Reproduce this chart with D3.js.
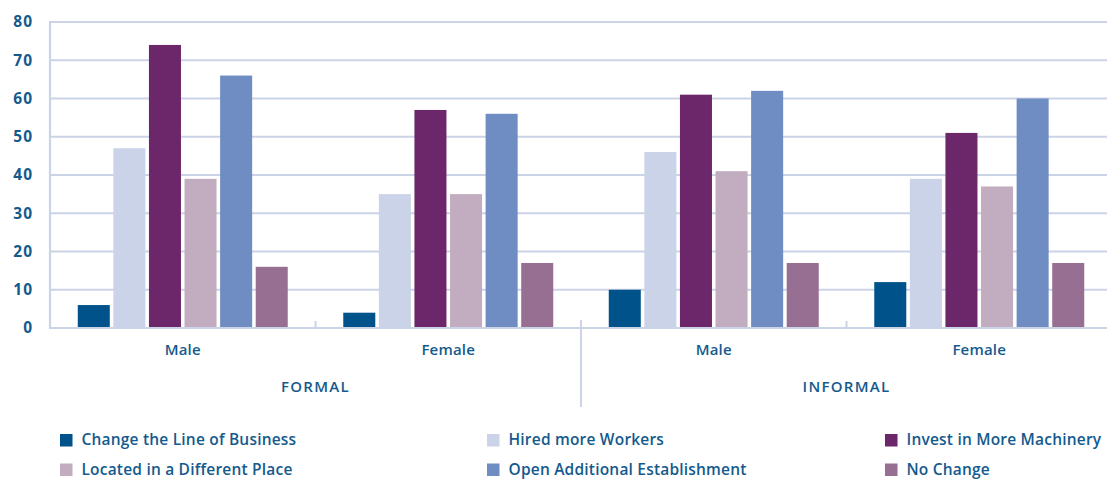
<!DOCTYPE html>
<html><head><meta charset="utf-8">
<script src="https://cdn.jsdelivr.net/npm/d3@7"></script>
<style>
html,body{margin:0;padding:0;background:#fff;}
text{font-family:"Open Sans",sans-serif;fill:#145a8d;}
</style></head>
<body><svg id="c" width="1107" height="479"></svg>
<script>
const groups = ["FORMAL|Male","FORMAL|Female","INFORMAL|Male","INFORMAL|Female"];
const sectors = ["FORMAL","INFORMAL"];
const genders = ["Male","Female"];
const series = ["Change the Line of Business","Hired more Workers","Invest in More Machinery","Located in a Different Place","Open Additional Establishment","No Change"];
const colors = ["#00538a","#cad3e7","#6c276a","#c2adc0","#6f8dc2","#976f93"];
const changeLine = [6,4,10,12];
const hiredWorkers = [47,35,46,39];
const investMachinery = [74,57,61,51];
const locatedDifferent = [39,35,41,37];
const openEstablishment = [66,56,62,60];
const noChange = [16,17,17,17];
const values = [changeLine,hiredWorkers,investMachinery,locatedDifferent,openEstablishment,noChange];
const yTicks = [0,10,20,30,40,50,60,70,80];

const svg = d3.select("#c");
const pLeft = 50, pRight = 1112, pTop = 22, pBottom = 328;
const grid = "#cbd3e6";

const y = d3.scaleLinear().domain([0,80]).range([pBottom, pTop]);
const x0 = d3.scaleBand().domain(groups).range([pLeft, pRight]);
const x1 = d3.scaleBand().domain(series).range([0, x0.bandwidth()]).paddingInner(0.1).paddingOuter(0.78);
const xs = d3.scaleBand().domain(sectors).range([pLeft, pRight]);

// gridlines
svg.append("g").selectAll("line").data(yTicks).join("line")
  .attr("x1", pLeft).attr("x2", 1107)
  .attr("y1", d => y(d)).attr("y2", d => y(d))
  .attr("stroke", grid).attr("stroke-width", 2.2);

// y axis line
svg.append("line").attr("x1", pLeft).attr("x2", pLeft).attr("y1", y(80)-1).attr("y2", y(0)+1)
  .attr("stroke", grid).attr("stroke-width", 2.2);

// y labels
svg.append("g").selectAll("text").data(yTicks).join("text")
  .attr("x", 33).attr("y", d => y(d)).attr("dy", "0.35em")
  .attr("text-anchor", "end").attr("font-size", 15.5).attr("font-weight", 700)
  .attr("letter-spacing", 1)
  .text(d => d);

// bars
groups.forEach((g, gi) => {
  svg.append("g").selectAll("rect").data(series).join("rect")
    .attr("x", (s) => x0(g) + x1(s))
    .attr("width", x1.bandwidth())
    .attr("y", (s, si) => y(values[si][gi]))
    .attr("height", (s, si) => y(0) - y(values[si][gi]))
    .attr("fill", (s, si) => colors[si]);
});

// bottom axis line redraw on top
svg.append("line").attr("x1", pLeft-1).attr("x2", 1107).attr("y1", y(0)).attr("y2", y(0))
  .attr("stroke", grid).attr("stroke-width", 2.2);

// minor separators between genders
[groups[1], groups[3]].forEach(g => {
  svg.append("line").attr("x1", x0(g)).attr("x2", x0(g)).attr("y1", y(0)-7).attr("y2", y(0))
    .attr("stroke", grid).attr("stroke-width", 2);
});
// major separator between sectors
svg.append("line").attr("x1", xs("INFORMAL")).attr("x2", xs("INFORMAL")).attr("y1", y(0)-8).attr("y2", 407)
  .attr("stroke", grid).attr("stroke-width", 2);

// gender labels
svg.append("g").selectAll("text").data(groups).join("text")
  .attr("x", d => x0(d) + x0.bandwidth()/2).attr("y", 350).attr("dy", "0.35em")
  .attr("text-anchor", "middle").attr("font-size", 15).attr("font-weight", 600)
  .attr("letter-spacing", 0.2)
  .text(d => d.split("|")[1]);

// sector labels
svg.append("g").selectAll("text").data(sectors).join("text")
  .attr("x", d => xs(d) + xs.bandwidth()/2).attr("y", 387).attr("dy", "0.35em")
  .attr("text-anchor", "middle").attr("font-size", 15).attr("font-weight", 600)
  .attr("letter-spacing", 1.3)
  .text(d => d);

// legend
const legX = [60, 487, 885], legY = [440, 469.5];
const leg = svg.append("g").selectAll("g").data(series).join("g")
  .attr("transform", (d, i) => `translate(${legX[i % 3]},${legY[Math.floor(i / 3)]})`);
leg.append("rect").attr("x", 0).attr("y", -6).attr("width", 12.5).attr("height", 12.5)
  .attr("fill", (d, i) => colors[i]);
leg.append("text").attr("x", 21.5).attr("y", 0).attr("dy", "0.35em")
  .attr("font-size", 15.5).attr("font-weight", 600).attr("letter-spacing", 0.2).text(d => d);
</script></body></html>
